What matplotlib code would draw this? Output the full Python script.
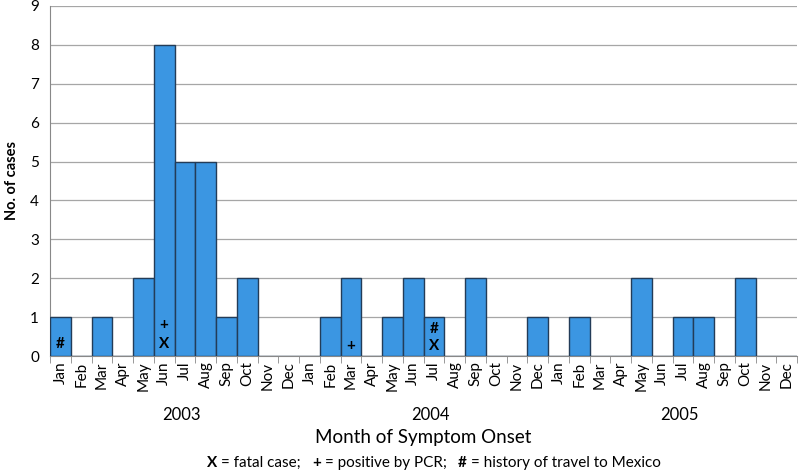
import matplotlib.pyplot as plt
import numpy as np

plt.rcParams['font.family'] = ['Lato', 'DejaVu Sans']

months = ['Jan', 'Feb', 'Mar', 'Apr', 'May', 'Jun',
          'Jul', 'Aug', 'Sep', 'Oct', 'Nov', 'Dec']
years = ['2003', '2004', '2005']

cases_2003 = [1, 0, 1, 0, 2, 8, 5, 5, 1, 2, 0, 0]
cases_2004 = [0, 1, 2, 0, 1, 2, 1, 0, 2, 0, 0, 1]
cases_2005 = [0, 1, 0, 0, 2, 0, 1, 1, 0, 2, 0, 0]

# (month index from Jan 2003, marker, height in cases)
markers = [
    (0, '#', 0.3),
    (5, '+', 0.8),
    (5, 'X', 0.3),
    (14, '+', 0.25),
    (18, '#', 0.7),
    (18, 'X', 0.27),
]

legend_parts = [('X', 'bold'), ('= fatal case;', 'normal'),
                ('+', 'bold'), ('= positive by PCR;', 'normal'),
                ('#', 'bold'), ('= history of travel to Mexico', 'normal')]

cases = cases_2003 + cases_2004 + cases_2005
x = np.arange(len(cases))

fig = plt.figure(figsize=(8, 4.75), dpi=100)
ax = fig.add_axes([0.0625, 0.2505, 0.934, 0.737])

ax.bar(x, cases, width=1.0, color='#3b96e2', edgecolor='#233c58', linewidth=1.0, zorder=3)

for i, sym, h in markers:
    ax.text(i, h, sym, ha='center', va='center', fontsize=11, fontweight='bold',
            color='black', zorder=4)

ax.set_xlim(-0.5, len(cases) - 0.5)
ax.set_ylim(0, 9)
ax.set_yticks(range(0, 10))
ax.yaxis.grid(True, color='#a6a6a6', linewidth=0.9, zorder=0)
ax.tick_params(axis='y', length=0, labelsize=11, pad=8)

ax.set_xticks(x)
ax.set_xticklabels(months * 3, rotation=90, fontsize=11)
ax.set_xticks(np.arange(-0.5, len(cases)), minor=True)
ax.tick_params(axis='x', which='major', length=0, pad=4)
ax.tick_params(axis='x', which='minor', length=5, color='#888888')

for s in ['top', 'right']:
    ax.spines[s].set_visible(False)
for s in ['left', 'bottom']:
    ax.spines[s].set_color('#888888')

ax.set_ylabel('No. of cases', fontsize=10.5, fontweight='bold', labelpad=8)

trans = ax.get_xaxis_transform()
for k, yr in enumerate(years):
    ax.text(12 * k + 5.85, -0.169, yr, transform=trans, ha='center', va='center', fontsize=12)

ax.text(0.5, -0.234, 'Month of Symptom Onset', transform=ax.transAxes,
        ha='center', va='center', fontsize=13.5)

# legend line: chain the pieces one after another
renderer = fig.canvas.get_renderer()
px = 207
for k, (txt, w) in enumerate(legend_parts):
    t = fig.text(px / 800, 0.025, txt, ha='left', va='center', fontsize=11, fontweight=w)
    bb = t.get_window_extent(renderer)
    gap = 4 if w == 'bold' else 11
    px = bb.x1 + gap

fig.savefig('out.png', dpi=100)
